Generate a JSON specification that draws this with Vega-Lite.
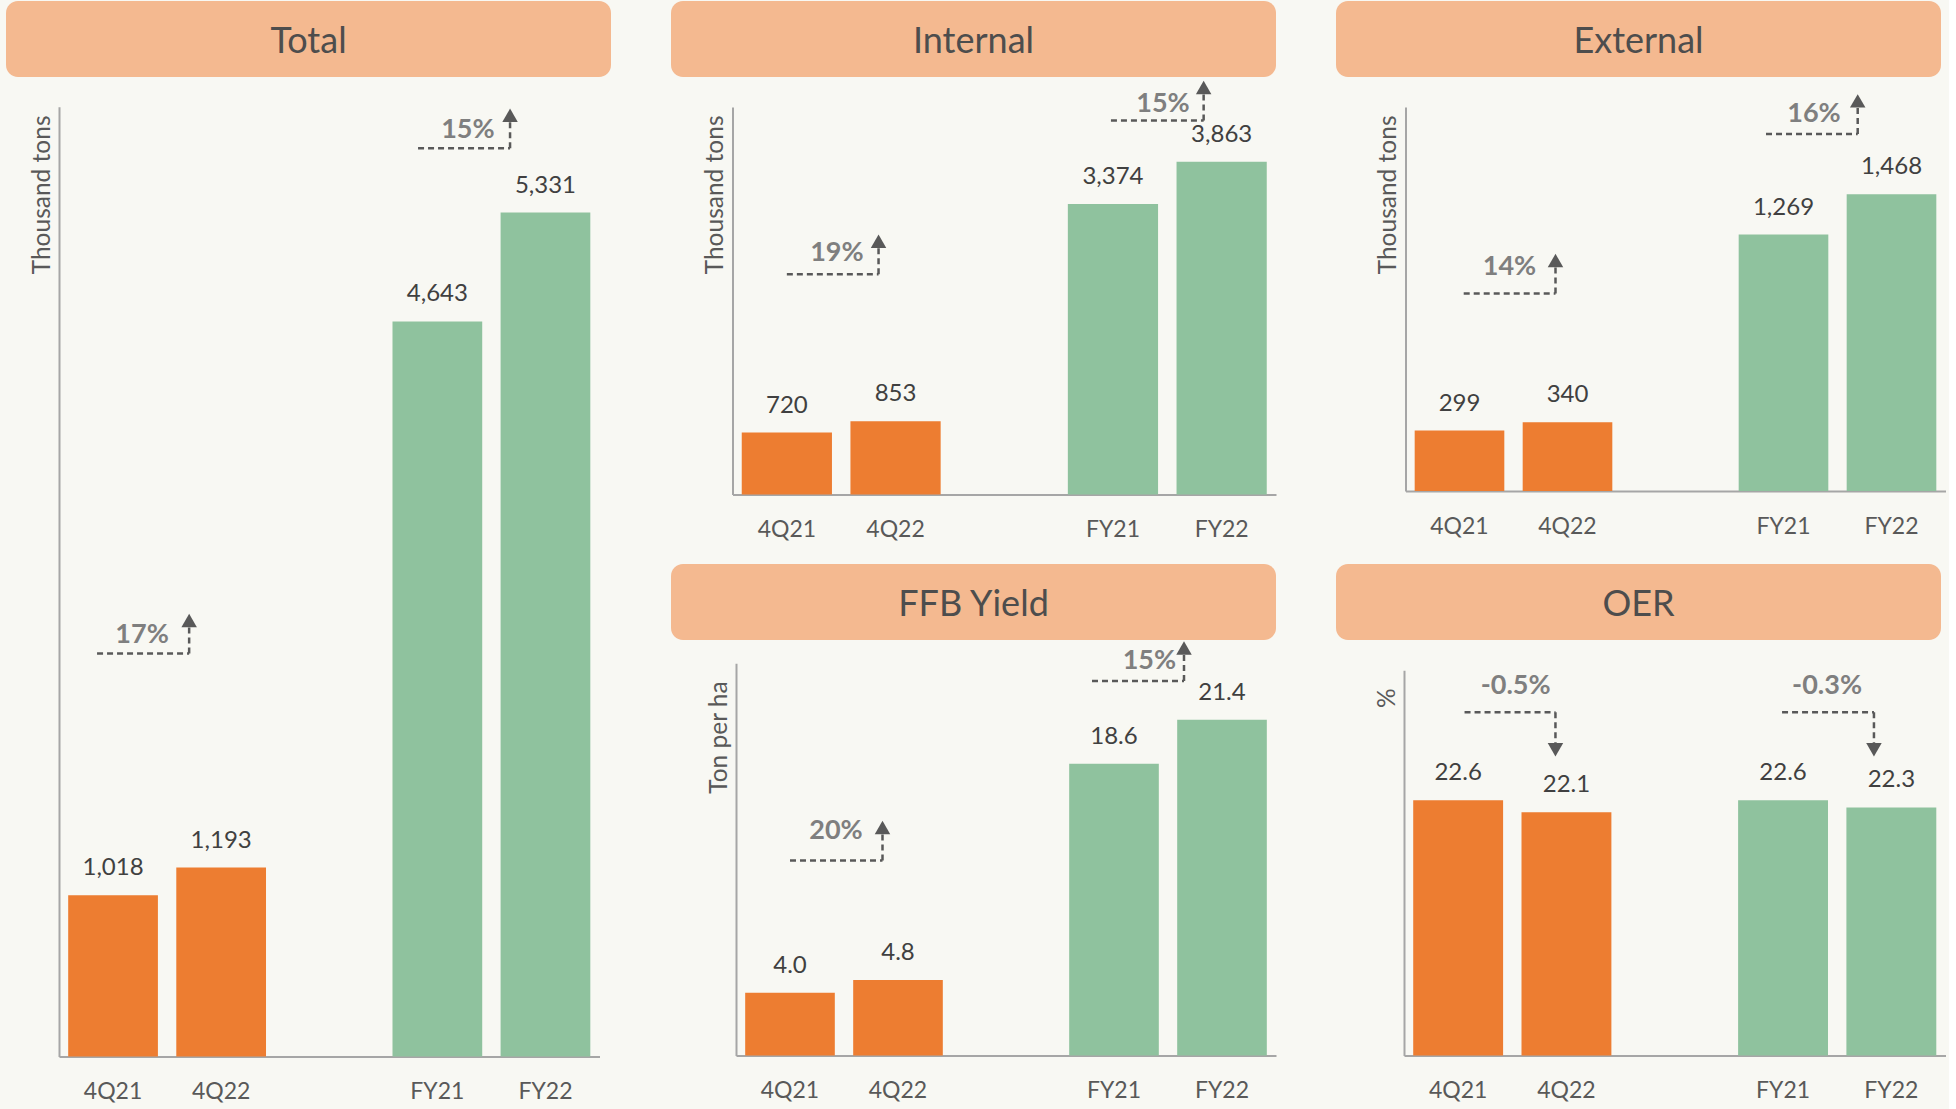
{
  "$schema": "https://vega.github.io/schema/vega-lite/v6.json",
  "background": "#F8F8F3",
  "padding": {"left": 6, "top": 1, "right": 8, "bottom": 0},
  "config": {"view": {"stroke": null}, "font": "Lato"},
  "datasets": {
    "bars": [
      {"panel": "Total", "period": "4Q21", "kind": "Q", "value": 1018},
      {"panel": "Total", "period": "4Q22", "kind": "Q", "value": 1193},
      {"panel": "Total", "period": "FY21", "kind": "FY", "value": 4643},
      {"panel": "Total", "period": "FY22", "kind": "FY", "value": 5331},
      {"panel": "Internal", "period": "4Q21", "kind": "Q", "value": 720},
      {"panel": "Internal", "period": "4Q22", "kind": "Q", "value": 853},
      {"panel": "Internal", "period": "FY21", "kind": "FY", "value": 3374},
      {"panel": "Internal", "period": "FY22", "kind": "FY", "value": 3863},
      {"panel": "External", "period": "4Q21", "kind": "Q", "value": 299},
      {"panel": "External", "period": "4Q22", "kind": "Q", "value": 340},
      {"panel": "External", "period": "FY21", "kind": "FY", "value": 1269},
      {"panel": "External", "period": "FY22", "kind": "FY", "value": 1468},
      {"panel": "FFB", "period": "4Q21", "kind": "Q", "value": 4.0},
      {"panel": "FFB", "period": "4Q22", "kind": "Q", "value": 4.8},
      {"panel": "FFB", "period": "FY21", "kind": "FY", "value": 18.6},
      {"panel": "FFB", "period": "FY22", "kind": "FY", "value": 21.4},
      {"panel": "OER", "period": "4Q21", "kind": "Q", "value": 22.6},
      {"panel": "OER", "period": "4Q22", "kind": "Q", "value": 22.1},
      {"panel": "OER", "period": "FY21", "kind": "FY", "value": 22.6},
      {"panel": "OER", "period": "FY22", "kind": "FY", "value": 22.3}
    ],
    "ann": [
      {"id": "T1", "from": "4Q21", "to": "4Q22", "level": 2545, "text": "17%"},
      {"id": "T2", "from": "FY21", "to": "FY22", "level": 5737, "text": "15%"},
      {"id": "I1", "from": "4Q21", "to": "4Q22", "level": 2558, "text": "19%"},
      {"id": "I2", "from": "FY21", "to": "FY22", "level": 4344, "text": "15%"},
      {"id": "E1", "from": "4Q21", "to": "4Q22", "level": 977, "text": "14%"},
      {"id": "E2", "from": "FY21", "to": "FY22", "level": 1767, "text": "16%"},
      {"id": "F1", "from": "4Q21", "to": "4Q22", "level": 12.43, "text": "20%"},
      {"id": "F2", "from": "FY21", "to": "FY22", "level": 23.87, "text": "15%"},
      {"id": "O1", "from": "4Q21", "to": "4Q22", "level": 26.26, "text": "-0.5%"},
      {"id": "O2", "from": "FY21", "to": "FY22", "level": 26.26, "text": "-0.3%"}
    ]
  },
  "spacing": 60,
  "hconcat": [
    {
      "bounds": "flush",
      "spacing": 0,
      "vconcat": [
        {
          "width": 605, "height": 76,
          "view": {"fill": "#F4B990", "stroke": null, "cornerRadius": 12},
          "data": {"values": [{"title": "Total"}]},
          "mark": {"type": "text", "fontSize": 36, "color": "#4D4D4D", "baseline": "middle", "align": "center", "dy": 3},
          "encoding": {"text": {"field": "title"}}
        },
        {
          "width": 605, "height": 1031,
          "layer": [
            {
              "data": {"name": "bars"}, "transform": [{"filter": "datum.panel === 'Total'"}],
              "mark": {"type": "bar"},
              "encoding": {
                "x": {"field": "period", "type": "nominal", "scale": {"type": "band", "domain": ["4Q21", "4Q22", " ", "FY21", "FY22"], "range": [53, 593.5], "paddingInner": 0.17, "paddingOuter": 0.085},
                  "axis": {"title": null, "domainColor": "#A6A6A6", "domainWidth": 2, "ticks": false, "grid": false, "labelAngle": 0, "labelFontSize": 23, "labelColor": "#595959", "labelFont": "Lato", "labelPadding": 24, "offset": -51.6}},
                "y": {"field": "value", "type": "quantitative", "scale": {"domain": [0, 6000], "range": [979.4, 29.7], "nice": false},
                  "axis": {"title": "Thousand tons", "labels": false, "ticks": false, "grid": false, "domainColor": "#A6A6A6", "domainWidth": 2, "offset": -53, "titleAnchor": "end", "titleY": 38, "titleFontSize": 24.5, "titleFont": "Lato", "titleFontWeight": "normal", "titleColor": "#595959", "titlePadding": 5}},
                "color": {"field": "kind", "type": "nominal", "scale": {"domain": ["Q", "FY"], "range": ["#ED7D31", "#8FC29E"]}, "legend": null}
              }
            },
            {
              "data": {"name": "bars"}, "transform": [{"filter": "datum.panel === 'Total'"}],
              "mark": {"type": "text", "dy": -27, "baseline": "middle", "align": "center", "fontSize": 24, "color": "#404040"},
              "encoding": {
                "x": {"field": "period", "type": "nominal", "scale": {"type": "band", "domain": ["4Q21", "4Q22", " ", "FY21", "FY22"], "range": [53, 593.5], "paddingInner": 0.17, "paddingOuter": 0.085}},
                "y": {"field": "value", "type": "quantitative", "scale": {"domain": [0, 6000], "range": [979.4, 29.7], "nice": false}},
                "text": {"field": "value", "type": "quantitative", "format": ",d"}
              }
            },
            {
              "data": {"name": "ann"}, "transform": [{"filter": "datum.id === 'T1'"}],
              "encoding": {
                "y": {"field": "level", "type": "quantitative", "scale": {"domain": [0, 6000], "range": [979.4, 29.7], "nice": false}}
              },
              "layer": [
                {"mark": {"type": "rule", "strokeDash": [6, 4], "strokeWidth": 2.5, "color": "#595959", "xOffset": -16, "x2Offset": -32},
                 "encoding": {"x": {"field": "from", "type": "nominal", "scale": {"type": "band", "domain": ["4Q21", "4Q22", " ", "FY21", "FY22"], "range": [53, 593.5], "paddingInner": 0.17, "paddingOuter": 0.085}}, "x2": {"field": "to"}}},
                {"mark": {"type": "rule", "strokeDash": [6, 4], "strokeWidth": 2.5, "color": "#595959", "xOffset": -32, "x2Offset": -32, "y2Offset": -27},
                 "encoding": {"x": {"field": "to", "type": "nominal", "scale": {"type": "band", "domain": ["4Q21", "4Q22", " ", "FY21", "FY22"], "range": [53, 593.5], "paddingInner": 0.17, "paddingOuter": 0.085}}, "y2": {"field": "level"}}},
                {"mark": {"type": "point", "shape": "triangle-up", "filled": true, "opacity": 1, "size": 240, "color": "#595959", "xOffset": -32, "yOffset": -33},
                 "encoding": {"x": {"field": "to", "type": "nominal", "scale": {"type": "band", "domain": ["4Q21", "4Q22", " ", "FY21", "FY22"], "range": [53, 593.5], "paddingInner": 0.17, "paddingOuter": 0.085}}}},
                {"mark": {"type": "text", "fontSize": 27, "fontWeight": "bold", "color": "#7F7F7F", "dx": 29, "dy": -18.5, "baseline": "middle", "align": "center"},
                 "encoding": {"x": {"field": "from", "type": "nominal", "scale": {"type": "band", "domain": ["4Q21", "4Q22", " ", "FY21", "FY22"], "range": [53, 593.5], "paddingInner": 0.17, "paddingOuter": 0.085}}, "text": {"field": "text"}}}
              ]
            },
            {
              "data": {"name": "ann"}, "transform": [{"filter": "datum.id === 'T2'"}],
              "encoding": {
                "y": {"field": "level", "type": "quantitative", "scale": {"domain": [0, 6000], "range": [979.4, 29.7], "nice": false}}
              },
              "layer": [
                {"mark": {"type": "rule", "strokeDash": [6, 4], "strokeWidth": 2.5, "color": "#595959", "xOffset": -19.3, "x2Offset": -35.4},
                 "encoding": {"x": {"field": "from", "type": "nominal", "scale": {"type": "band", "domain": ["4Q21", "4Q22", " ", "FY21", "FY22"], "range": [53, 593.5], "paddingInner": 0.17, "paddingOuter": 0.085}}, "x2": {"field": "to"}}},
                {"mark": {"type": "rule", "strokeDash": [6, 4], "strokeWidth": 2.5, "color": "#595959", "xOffset": -35.4, "x2Offset": -35.4, "y2Offset": -27},
                 "encoding": {"x": {"field": "to", "type": "nominal", "scale": {"type": "band", "domain": ["4Q21", "4Q22", " ", "FY21", "FY22"], "range": [53, 593.5], "paddingInner": 0.17, "paddingOuter": 0.085}}, "y2": {"field": "level"}}},
                {"mark": {"type": "point", "shape": "triangle-up", "filled": true, "opacity": 1, "size": 240, "color": "#595959", "xOffset": -35.4, "yOffset": -33},
                 "encoding": {"x": {"field": "to", "type": "nominal", "scale": {"type": "band", "domain": ["4Q21", "4Q22", " ", "FY21", "FY22"], "range": [53, 593.5], "paddingInner": 0.17, "paddingOuter": 0.085}}}},
                {"mark": {"type": "text", "fontSize": 27, "fontWeight": "bold", "color": "#7F7F7F", "dx": 30.5, "dy": -18.3, "baseline": "middle", "align": "center"},
                 "encoding": {"x": {"field": "from", "type": "nominal", "scale": {"type": "band", "domain": ["4Q21", "4Q22", " ", "FY21", "FY22"], "range": [53, 593.5], "paddingInner": 0.17, "paddingOuter": 0.085}}, "text": {"field": "text"}}}
              ]
            }
          ]
        }
      ]
    },
    {
      "bounds": "flush",
      "spacing": 0,
      "vconcat": [
        {
          "width": 605, "height": 76,
          "view": {"fill": "#F4B990", "stroke": null, "cornerRadius": 12},
          "data": {"values": [{"title": "Internal"}]},
          "mark": {"type": "text", "fontSize": 36, "color": "#4D4D4D", "baseline": "middle", "align": "center", "dy": 3},
          "encoding": {"text": {"field": "title"}}
        },
        {
          "width": 605, "height": 487,
          "layer": [
            {
              "data": {"name": "bars"}, "transform": [{"filter": "datum.panel === 'Internal'"}],
              "mark": {"type": "bar"},
              "encoding": {
                "x": {"field": "period", "type": "nominal", "scale": {"type": "band", "domain": ["4Q21", "4Q22", " ", "FY21", "FY22"], "range": [61.5, 605], "paddingInner": 0.17, "paddingOuter": 0.085},
                  "axis": {"title": null, "domainColor": "#A6A6A6", "domainWidth": 2, "ticks": false, "grid": false, "labelAngle": 0, "labelFontSize": 23, "labelColor": "#595959", "labelFont": "Lato", "labelPadding": 24, "offset": -69.4}},
                "y": {"field": "value", "type": "quantitative", "scale": {"domain": [0, 4500], "range": [417.6, 30], "nice": false},
                  "axis": {"title": "Thousand tons", "labels": false, "ticks": false, "grid": false, "domainColor": "#A6A6A6", "domainWidth": 2, "offset": -61.5, "titleAnchor": "end", "titleY": 38, "titleFontSize": 24.5, "titleFont": "Lato", "titleFontWeight": "normal", "titleColor": "#595959", "titlePadding": 5}},
                "color": {"field": "kind", "type": "nominal", "scale": {"domain": ["Q", "FY"], "range": ["#ED7D31", "#8FC29E"]}, "legend": null}
              }
            },
            {
              "data": {"name": "bars"}, "transform": [{"filter": "datum.panel === 'Internal'"}],
              "mark": {"type": "text", "dy": -27, "baseline": "middle", "align": "center", "fontSize": 24, "color": "#404040"},
              "encoding": {
                "x": {"field": "period", "type": "nominal", "scale": {"type": "band", "domain": ["4Q21", "4Q22", " ", "FY21", "FY22"], "range": [61.5, 605], "paddingInner": 0.17, "paddingOuter": 0.085}},
                "y": {"field": "value", "type": "quantitative", "scale": {"domain": [0, 4500], "range": [417.6, 30], "nice": false}},
                "text": {"field": "value", "type": "quantitative", "format": ",d"}
              }
            },
            {
              "data": {"name": "ann"}, "transform": [{"filter": "datum.id === 'I1'"}],
              "encoding": {
                "y": {"field": "level", "type": "quantitative", "scale": {"domain": [0, 4500], "range": [417.6, 30], "nice": false}}
              },
              "layer": [
                {"mark": {"type": "rule", "strokeDash": [6, 4], "strokeWidth": 2.5, "color": "#595959", "xOffset": 0, "x2Offset": -17},
                 "encoding": {"x": {"field": "from", "type": "nominal", "scale": {"type": "band", "domain": ["4Q21", "4Q22", " ", "FY21", "FY22"], "range": [61.5, 605], "paddingInner": 0.17, "paddingOuter": 0.085}}, "x2": {"field": "to"}}},
                {"mark": {"type": "rule", "strokeDash": [6, 4], "strokeWidth": 2.5, "color": "#595959", "xOffset": -17, "x2Offset": -17, "y2Offset": -27},
                 "encoding": {"x": {"field": "to", "type": "nominal", "scale": {"type": "band", "domain": ["4Q21", "4Q22", " ", "FY21", "FY22"], "range": [61.5, 605], "paddingInner": 0.17, "paddingOuter": 0.085}}, "y2": {"field": "level"}}},
                {"mark": {"type": "point", "shape": "triangle-up", "filled": true, "opacity": 1, "size": 240, "color": "#595959", "xOffset": -17, "yOffset": -33},
                 "encoding": {"x": {"field": "to", "type": "nominal", "scale": {"type": "band", "domain": ["4Q21", "4Q22", " ", "FY21", "FY22"], "range": [61.5, 605], "paddingInner": 0.17, "paddingOuter": 0.085}}}},
                {"mark": {"type": "text", "fontSize": 27, "fontWeight": "bold", "color": "#7F7F7F", "dx": 50, "dy": -21.4, "baseline": "middle", "align": "center"},
                 "encoding": {"x": {"field": "from", "type": "nominal", "scale": {"type": "band", "domain": ["4Q21", "4Q22", " ", "FY21", "FY22"], "range": [61.5, 605], "paddingInner": 0.17, "paddingOuter": 0.085}}, "text": {"field": "text"}}}
              ]
            },
            {
              "data": {"name": "ann"}, "transform": [{"filter": "datum.id === 'I2'"}],
              "encoding": {
                "y": {"field": "level", "type": "quantitative", "scale": {"domain": [0, 4500], "range": [417.6, 30], "nice": false}}
              },
              "layer": [
                {"mark": {"type": "rule", "strokeDash": [6, 4], "strokeWidth": 2.5, "color": "#595959", "xOffset": -2, "x2Offset": -18},
                 "encoding": {"x": {"field": "from", "type": "nominal", "scale": {"type": "band", "domain": ["4Q21", "4Q22", " ", "FY21", "FY22"], "range": [61.5, 605], "paddingInner": 0.17, "paddingOuter": 0.085}}, "x2": {"field": "to"}}},
                {"mark": {"type": "rule", "strokeDash": [6, 4], "strokeWidth": 2.5, "color": "#595959", "xOffset": -18, "x2Offset": -18, "y2Offset": -27},
                 "encoding": {"x": {"field": "to", "type": "nominal", "scale": {"type": "band", "domain": ["4Q21", "4Q22", " ", "FY21", "FY22"], "range": [61.5, 605], "paddingInner": 0.17, "paddingOuter": 0.085}}, "y2": {"field": "level"}}},
                {"mark": {"type": "point", "shape": "triangle-up", "filled": true, "opacity": 1, "size": 240, "color": "#595959", "xOffset": -18, "yOffset": -33},
                 "encoding": {"x": {"field": "to", "type": "nominal", "scale": {"type": "band", "domain": ["4Q21", "4Q22", " ", "FY21", "FY22"], "range": [61.5, 605], "paddingInner": 0.17, "paddingOuter": 0.085}}}},
                {"mark": {"type": "text", "fontSize": 27, "fontWeight": "bold", "color": "#7F7F7F", "dx": 50, "dy": -16, "baseline": "middle", "align": "center"},
                 "encoding": {"x": {"field": "from", "type": "nominal", "scale": {"type": "band", "domain": ["4Q21", "4Q22", " ", "FY21", "FY22"], "range": [61.5, 605], "paddingInner": 0.17, "paddingOuter": 0.085}}, "text": {"field": "text"}}}
              ]
            }
          ]
        },
        {
          "width": 605, "height": 76,
          "view": {"fill": "#F4B990", "stroke": null, "cornerRadius": 12},
          "data": {"values": [{"title": "FFB Yield"}]},
          "mark": {"type": "text", "fontSize": 36, "color": "#4D4D4D", "baseline": "middle", "align": "center", "dy": 3},
          "encoding": {"text": {"field": "title"}}
        },
        {
          "width": 605, "height": 469,
          "layer": [
            {
              "data": {"name": "bars"}, "transform": [{"filter": "datum.panel === 'FFB'"}],
              "mark": {"type": "bar"},
              "encoding": {
                "x": {"field": "period", "type": "nominal", "scale": {"type": "band", "domain": ["4Q21", "4Q22", " ", "FY21", "FY22"], "range": [65, 605], "paddingInner": 0.17, "paddingOuter": 0.085},
                  "axis": {"title": null, "domainColor": "#A6A6A6", "domainWidth": 2, "ticks": false, "grid": false, "labelAngle": 0, "labelFontSize": 23, "labelColor": "#595959", "labelFont": "Lato", "labelPadding": 24, "offset": -53.6}},
                "y": {"field": "value", "type": "quantitative", "scale": {"domain": [0, 25], "range": [415.4, 23.3], "nice": false},
                  "axis": {"title": "Ton per ha", "labels": false, "ticks": false, "grid": false, "domainColor": "#A6A6A6", "domainWidth": 2, "offset": -65, "titleAnchor": "end", "titleY": 40.8, "titleFontSize": 24.5, "titleFont": "Lato", "titleFontWeight": "normal", "titleColor": "#595959", "titlePadding": 5}},
                "color": {"field": "kind", "type": "nominal", "scale": {"domain": ["Q", "FY"], "range": ["#ED7D31", "#8FC29E"]}, "legend": null}
              }
            },
            {
              "data": {"name": "bars"}, "transform": [{"filter": "datum.panel === 'FFB'"}],
              "mark": {"type": "text", "dy": -27, "baseline": "middle", "align": "center", "fontSize": 24, "color": "#404040"},
              "encoding": {
                "x": {"field": "period", "type": "nominal", "scale": {"type": "band", "domain": ["4Q21", "4Q22", " ", "FY21", "FY22"], "range": [65, 605], "paddingInner": 0.17, "paddingOuter": 0.085}},
                "y": {"field": "value", "type": "quantitative", "scale": {"domain": [0, 25], "range": [415.4, 23.3], "nice": false}},
                "text": {"field": "value", "type": "quantitative", "format": ".1f"}
              }
            },
            {
              "data": {"name": "ann"}, "transform": [{"filter": "datum.id === 'F1'"}],
              "encoding": {
                "y": {"field": "level", "type": "quantitative", "scale": {"domain": [0, 25], "range": [415.4, 23.3], "nice": false}}
              },
              "layer": [
                {"mark": {"type": "rule", "strokeDash": [6, 4], "strokeWidth": 2.5, "color": "#595959", "xOffset": 0, "x2Offset": -15.5},
                 "encoding": {"x": {"field": "from", "type": "nominal", "scale": {"type": "band", "domain": ["4Q21", "4Q22", " ", "FY21", "FY22"], "range": [65, 605], "paddingInner": 0.17, "paddingOuter": 0.085}}, "x2": {"field": "to"}}},
                {"mark": {"type": "rule", "strokeDash": [6, 4], "strokeWidth": 2.5, "color": "#595959", "xOffset": -15.5, "x2Offset": -15.5, "y2Offset": -27},
                 "encoding": {"x": {"field": "to", "type": "nominal", "scale": {"type": "band", "domain": ["4Q21", "4Q22", " ", "FY21", "FY22"], "range": [65, 605], "paddingInner": 0.17, "paddingOuter": 0.085}}, "y2": {"field": "level"}}},
                {"mark": {"type": "point", "shape": "triangle-up", "filled": true, "opacity": 1, "size": 240, "color": "#595959", "xOffset": -15.5, "yOffset": -33},
                 "encoding": {"x": {"field": "to", "type": "nominal", "scale": {"type": "band", "domain": ["4Q21", "4Q22", " ", "FY21", "FY22"], "range": [65, 605], "paddingInner": 0.17, "paddingOuter": 0.085}}}},
                {"mark": {"type": "text", "fontSize": 27, "fontWeight": "bold", "color": "#7F7F7F", "dx": 46, "dy": -29, "baseline": "middle", "align": "center"},
                 "encoding": {"x": {"field": "from", "type": "nominal", "scale": {"type": "band", "domain": ["4Q21", "4Q22", " ", "FY21", "FY22"], "range": [65, 605], "paddingInner": 0.17, "paddingOuter": 0.085}}, "text": {"field": "text"}}}
              ]
            },
            {
              "data": {"name": "ann"}, "transform": [{"filter": "datum.id === 'F2'"}],
              "encoding": {
                "y": {"field": "level", "type": "quantitative", "scale": {"domain": [0, 25], "range": [415.4, 23.3], "nice": false}}
              },
              "layer": [
                {"mark": {"type": "rule", "strokeDash": [6, 4], "strokeWidth": 2.5, "color": "#595959", "xOffset": -22, "x2Offset": -38},
                 "encoding": {"x": {"field": "from", "type": "nominal", "scale": {"type": "band", "domain": ["4Q21", "4Q22", " ", "FY21", "FY22"], "range": [65, 605], "paddingInner": 0.17, "paddingOuter": 0.085}}, "x2": {"field": "to"}}},
                {"mark": {"type": "rule", "strokeDash": [6, 4], "strokeWidth": 2.5, "color": "#595959", "xOffset": -38, "x2Offset": -38, "y2Offset": -27},
                 "encoding": {"x": {"field": "to", "type": "nominal", "scale": {"type": "band", "domain": ["4Q21", "4Q22", " ", "FY21", "FY22"], "range": [65, 605], "paddingInner": 0.17, "paddingOuter": 0.085}}, "y2": {"field": "level"}}},
                {"mark": {"type": "point", "shape": "triangle-up", "filled": true, "opacity": 1, "size": 240, "color": "#595959", "xOffset": -38, "yOffset": -33},
                 "encoding": {"x": {"field": "to", "type": "nominal", "scale": {"type": "band", "domain": ["4Q21", "4Q22", " ", "FY21", "FY22"], "range": [65, 605], "paddingInner": 0.17, "paddingOuter": 0.085}}}},
                {"mark": {"type": "text", "fontSize": 27, "fontWeight": "bold", "color": "#7F7F7F", "dx": 35.4, "dy": -19.6, "baseline": "middle", "align": "center"},
                 "encoding": {"x": {"field": "from", "type": "nominal", "scale": {"type": "band", "domain": ["4Q21", "4Q22", " ", "FY21", "FY22"], "range": [65, 605], "paddingInner": 0.17, "paddingOuter": 0.085}}, "text": {"field": "text"}}}
              ]
            }
          ]
        }
      ]
    },
    {
      "bounds": "flush",
      "spacing": 0,
      "vconcat": [
        {
          "width": 605, "height": 76,
          "view": {"fill": "#F4B990", "stroke": null, "cornerRadius": 12},
          "data": {"values": [{"title": "External"}]},
          "mark": {"type": "text", "fontSize": 36, "color": "#4D4D4D", "baseline": "middle", "align": "center", "dy": 3},
          "encoding": {"text": {"field": "title"}}
        },
        {
          "width": 605, "height": 487,
          "layer": [
            {
              "data": {"name": "bars"}, "transform": [{"filter": "datum.panel === 'External'"}],
              "mark": {"type": "bar"},
              "encoding": {
                "x": {"field": "period", "type": "nominal", "scale": {"type": "band", "domain": ["4Q21", "4Q22", " ", "FY21", "FY22"], "range": [69.5, 609.5], "paddingInner": 0.17, "paddingOuter": 0.085},
                  "axis": {"title": null, "domainColor": "#A6A6A6", "domainWidth": 2, "ticks": false, "grid": false, "labelAngle": 0, "labelFontSize": 23, "labelColor": "#595959", "labelFont": "Lato", "labelPadding": 24, "offset": -73}},
                "y": {"field": "value", "type": "quantitative", "scale": {"domain": [0, 1900], "range": [414, 30], "nice": false},
                  "axis": {"title": "Thousand tons", "labels": false, "ticks": false, "grid": false, "domainColor": "#A6A6A6", "domainWidth": 2, "offset": -69.5, "titleAnchor": "end", "titleY": 38, "titleFontSize": 24.5, "titleFont": "Lato", "titleFontWeight": "normal", "titleColor": "#595959", "titlePadding": 5}},
                "color": {"field": "kind", "type": "nominal", "scale": {"domain": ["Q", "FY"], "range": ["#ED7D31", "#8FC29E"]}, "legend": null}
              }
            },
            {
              "data": {"name": "bars"}, "transform": [{"filter": "datum.panel === 'External'"}],
              "mark": {"type": "text", "dy": -27, "baseline": "middle", "align": "center", "fontSize": 24, "color": "#404040"},
              "encoding": {
                "x": {"field": "period", "type": "nominal", "scale": {"type": "band", "domain": ["4Q21", "4Q22", " ", "FY21", "FY22"], "range": [69.5, 609.5], "paddingInner": 0.17, "paddingOuter": 0.085}},
                "y": {"field": "value", "type": "quantitative", "scale": {"domain": [0, 1900], "range": [414, 30], "nice": false}},
                "text": {"field": "value", "type": "quantitative", "format": ",d"}
              }
            },
            {
              "data": {"name": "ann"}, "transform": [{"filter": "datum.id === 'E1'"}],
              "encoding": {
                "y": {"field": "level", "type": "quantitative", "scale": {"domain": [0, 1900], "range": [414, 30], "nice": false}}
              },
              "layer": [
                {"mark": {"type": "rule", "strokeDash": [6, 4], "strokeWidth": 2.5, "color": "#595959", "xOffset": 4.2, "x2Offset": -12},
                 "encoding": {"x": {"field": "from", "type": "nominal", "scale": {"type": "band", "domain": ["4Q21", "4Q22", " ", "FY21", "FY22"], "range": [69.5, 609.5], "paddingInner": 0.17, "paddingOuter": 0.085}}, "x2": {"field": "to"}}},
                {"mark": {"type": "rule", "strokeDash": [6, 4], "strokeWidth": 2.5, "color": "#595959", "xOffset": -12, "x2Offset": -12, "y2Offset": -27},
                 "encoding": {"x": {"field": "to", "type": "nominal", "scale": {"type": "band", "domain": ["4Q21", "4Q22", " ", "FY21", "FY22"], "range": [69.5, 609.5], "paddingInner": 0.17, "paddingOuter": 0.085}}, "y2": {"field": "level"}}},
                {"mark": {"type": "point", "shape": "triangle-up", "filled": true, "opacity": 1, "size": 240, "color": "#595959", "xOffset": -12, "yOffset": -33},
                 "encoding": {"x": {"field": "to", "type": "nominal", "scale": {"type": "band", "domain": ["4Q21", "4Q22", " ", "FY21", "FY22"], "range": [69.5, 609.5], "paddingInner": 0.17, "paddingOuter": 0.085}}}},
                {"mark": {"type": "text", "fontSize": 27, "fontWeight": "bold", "color": "#7F7F7F", "dx": 50, "dy": -26.6, "baseline": "middle", "align": "center"},
                 "encoding": {"x": {"field": "from", "type": "nominal", "scale": {"type": "band", "domain": ["4Q21", "4Q22", " ", "FY21", "FY22"], "range": [69.5, 609.5], "paddingInner": 0.17, "paddingOuter": 0.085}}, "text": {"field": "text"}}}
              ]
            },
            {
              "data": {"name": "ann"}, "transform": [{"filter": "datum.id === 'E2'"}],
              "encoding": {
                "y": {"field": "level", "type": "quantitative", "scale": {"domain": [0, 1900], "range": [414, 30], "nice": false}}
              },
              "layer": [
                {"mark": {"type": "rule", "strokeDash": [6, 4], "strokeWidth": 2.5, "color": "#595959", "xOffset": -17.5, "x2Offset": -33.8},
                 "encoding": {"x": {"field": "from", "type": "nominal", "scale": {"type": "band", "domain": ["4Q21", "4Q22", " ", "FY21", "FY22"], "range": [69.5, 609.5], "paddingInner": 0.17, "paddingOuter": 0.085}}, "x2": {"field": "to"}}},
                {"mark": {"type": "rule", "strokeDash": [6, 4], "strokeWidth": 2.5, "color": "#595959", "xOffset": -33.8, "x2Offset": -33.8, "y2Offset": -27},
                 "encoding": {"x": {"field": "to", "type": "nominal", "scale": {"type": "band", "domain": ["4Q21", "4Q22", " ", "FY21", "FY22"], "range": [69.5, 609.5], "paddingInner": 0.17, "paddingOuter": 0.085}}, "y2": {"field": "level"}}},
                {"mark": {"type": "point", "shape": "triangle-up", "filled": true, "opacity": 1, "size": 240, "color": "#595959", "xOffset": -33.8, "yOffset": -33},
                 "encoding": {"x": {"field": "to", "type": "nominal", "scale": {"type": "band", "domain": ["4Q21", "4Q22", " ", "FY21", "FY22"], "range": [69.5, 609.5], "paddingInner": 0.17, "paddingOuter": 0.085}}}},
                {"mark": {"type": "text", "fontSize": 27, "fontWeight": "bold", "color": "#7F7F7F", "dx": 30.5, "dy": -20.3, "baseline": "middle", "align": "center"},
                 "encoding": {"x": {"field": "from", "type": "nominal", "scale": {"type": "band", "domain": ["4Q21", "4Q22", " ", "FY21", "FY22"], "range": [69.5, 609.5], "paddingInner": 0.17, "paddingOuter": 0.085}}, "text": {"field": "text"}}}
              ]
            }
          ]
        },
        {
          "width": 605, "height": 76,
          "view": {"fill": "#F4B990", "stroke": null, "cornerRadius": 12},
          "data": {"values": [{"title": "OER"}]},
          "mark": {"type": "text", "fontSize": 36, "color": "#4D4D4D", "baseline": "middle", "align": "center", "dy": 3},
          "encoding": {"text": {"field": "title"}}
        },
        {
          "width": 605, "height": 469,
          "layer": [
            {
              "data": {"name": "bars"}, "transform": [{"filter": "datum.panel === 'OER'"}],
              "mark": {"type": "bar"},
              "encoding": {
                "x": {"field": "period", "type": "nominal", "scale": {"type": "band", "domain": ["4Q21", "4Q22", " ", "FY21", "FY22"], "range": [68, 609.5], "paddingInner": 0.17, "paddingOuter": 0.085},
                  "axis": {"title": null, "domainColor": "#A6A6A6", "domainWidth": 2, "ticks": false, "grid": false, "labelAngle": 0, "labelFontSize": 23, "labelColor": "#595959", "labelFont": "Lato", "labelPadding": 24, "offset": -53.6}},
                "y": {"field": "value", "type": "quantitative", "scale": {"domain": [12, 28], "range": [415.4, 30.3], "nice": false, "zero": false},
                  "axis": {"title": "%", "labels": false, "ticks": false, "grid": false, "domainColor": "#A6A6A6", "domainWidth": 2, "offset": -68, "titleAnchor": "end", "titleY": 47.8, "titleFontSize": 24.5, "titleFont": "Lato", "titleFontWeight": "normal", "titleColor": "#595959", "titlePadding": 5}},
                "y2": {"datum": 12},
                "color": {"field": "kind", "type": "nominal", "scale": {"domain": ["Q", "FY"], "range": ["#ED7D31", "#8FC29E"]}, "legend": null}
              }
            },
            {
              "data": {"name": "bars"}, "transform": [{"filter": "datum.panel === 'OER'"}],
              "mark": {"type": "text", "dy": -27, "baseline": "middle", "align": "center", "fontSize": 24, "color": "#404040"},
              "encoding": {
                "x": {"field": "period", "type": "nominal", "scale": {"type": "band", "domain": ["4Q21", "4Q22", " ", "FY21", "FY22"], "range": [68, 609.5], "paddingInner": 0.17, "paddingOuter": 0.085}},
                "y": {"field": "value", "type": "quantitative", "scale": {"domain": [12, 28], "range": [415.4, 30.3], "nice": false, "zero": false}},
                "text": {"field": "value", "type": "quantitative", "format": ".1f"}
              }
            },
            {
              "data": {"name": "ann"}, "transform": [{"filter": "datum.id === 'O1'"}],
              "encoding": {
                "y": {"field": "level", "type": "quantitative", "scale": {"domain": [12, 28], "range": [415.4, 30.3], "nice": false, "zero": false}}
              },
              "layer": [
                {"mark": {"type": "rule", "strokeDash": [6, 4], "strokeWidth": 2.5, "color": "#595959", "xOffset": 6.4, "x2Offset": -11},
                 "encoding": {"x": {"field": "from", "type": "nominal", "scale": {"type": "band", "domain": ["4Q21", "4Q22", " ", "FY21", "FY22"], "range": [68, 609.5], "paddingInner": 0.17, "paddingOuter": 0.085}}, "x2": {"field": "to"}}},
                {"mark": {"type": "rule", "strokeDash": [6, 4], "strokeWidth": 2.5, "color": "#595959", "xOffset": -11, "x2Offset": -11, "y2Offset": 31},
                 "encoding": {"x": {"field": "to", "type": "nominal", "scale": {"type": "band", "domain": ["4Q21", "4Q22", " ", "FY21", "FY22"], "range": [68, 609.5], "paddingInner": 0.17, "paddingOuter": 0.085}}, "y2": {"field": "level"}}},
                {"mark": {"type": "point", "shape": "triangle-down", "filled": true, "opacity": 1, "size": 240, "color": "#595959", "xOffset": -11, "yOffset": 37.5},
                 "encoding": {"x": {"field": "to", "type": "nominal", "scale": {"type": "band", "domain": ["4Q21", "4Q22", " ", "FY21", "FY22"], "range": [68, 609.5], "paddingInner": 0.17, "paddingOuter": 0.085}}}},
                {"mark": {"type": "text", "fontSize": 27, "fontWeight": "bold", "color": "#7F7F7F", "dx": 57.5, "dy": -26.3, "baseline": "middle", "align": "center"},
                 "encoding": {"x": {"field": "from", "type": "nominal", "scale": {"type": "band", "domain": ["4Q21", "4Q22", " ", "FY21", "FY22"], "range": [68, 609.5], "paddingInner": 0.17, "paddingOuter": 0.085}}, "text": {"field": "text"}}}
              ]
            },
            {
              "data": {"name": "ann"}, "transform": [{"filter": "datum.id === 'O2'"}],
              "encoding": {
                "y": {"field": "level", "type": "quantitative", "scale": {"domain": [12, 28], "range": [415.4, 30.3], "nice": false, "zero": false}}
              },
              "layer": [
                {"mark": {"type": "rule", "strokeDash": [6, 4], "strokeWidth": 2.5, "color": "#595959", "xOffset": -1, "x2Offset": -17.4},
                 "encoding": {"x": {"field": "from", "type": "nominal", "scale": {"type": "band", "domain": ["4Q21", "4Q22", " ", "FY21", "FY22"], "range": [68, 609.5], "paddingInner": 0.17, "paddingOuter": 0.085}}, "x2": {"field": "to"}}},
                {"mark": {"type": "rule", "strokeDash": [6, 4], "strokeWidth": 2.5, "color": "#595959", "xOffset": -17.4, "x2Offset": -17.4, "y2Offset": 31},
                 "encoding": {"x": {"field": "to", "type": "nominal", "scale": {"type": "band", "domain": ["4Q21", "4Q22", " ", "FY21", "FY22"], "range": [68, 609.5], "paddingInner": 0.17, "paddingOuter": 0.085}}, "y2": {"field": "level"}}},
                {"mark": {"type": "point", "shape": "triangle-down", "filled": true, "opacity": 1, "size": 240, "color": "#595959", "xOffset": -17.4, "yOffset": 37.5},
                 "encoding": {"x": {"field": "to", "type": "nominal", "scale": {"type": "band", "domain": ["4Q21", "4Q22", " ", "FY21", "FY22"], "range": [68, 609.5], "paddingInner": 0.17, "paddingOuter": 0.085}}}},
                {"mark": {"type": "text", "fontSize": 27, "fontWeight": "bold", "color": "#7F7F7F", "dx": 44, "dy": -26.3, "baseline": "middle", "align": "center"},
                 "encoding": {"x": {"field": "from", "type": "nominal", "scale": {"type": "band", "domain": ["4Q21", "4Q22", " ", "FY21", "FY22"], "range": [68, 609.5], "paddingInner": 0.17, "paddingOuter": 0.085}}, "text": {"field": "text"}}}
              ]
            }
          ]
        }
      ]
    }
  ]
}
